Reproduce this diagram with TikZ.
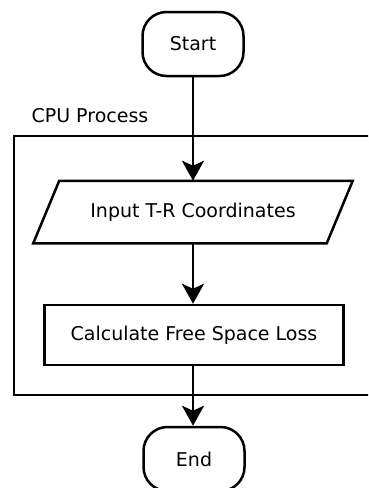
\documentclass[tikz,border=0pt]{standalone}
\usepackage{fontspec}
\setmainfont{DejaVu Sans}
\usetikzlibrary{arrows.meta}
\begin{document}
\begin{tikzpicture}[x=1pt,y=-1pt,line width=2.5pt,
  every node/.style={font=\fontsize{19}{23}\selectfont},
  term/.style={draw,rounded corners=24pt,minimum width=101pt,minimum height=64pt,inner sep=0pt},
  procbox/.style={draw,minimum width=299pt,minimum height=60pt,inner sep=0pt},
  flow/.style={-{Stealth[length=20pt,width=22pt,inset=5pt]}}]
  \clip (0,0) rectangle (368,488);
  \draw (14,136) rectangle (390,395);
  \node[anchor=west] (cpulabel) at (27,116) {CPU Process};
  \node[term] (start) at (193,44) {Start};
  \node[minimum width=291pt,minimum height=60pt,inner sep=0pt] (input) at (193,212) {Input T-R Coordinates};
  \draw ([xshift=13pt]input.north west) -- ([xshift=13pt]input.north east)
    -- ([xshift=-13pt]input.south east) -- ([xshift=-13pt]input.south west) -- cycle;
  \node[procbox] (calc) at (194,335) {Calculate Free Space Loss};
  \node[term] (stop) at (194,459) {End};
  \draw[flow] (start) -- (input);
  \draw[flow] (input) -- (input |- calc.north);
  \draw[flow] (calc.south -| input) -- (stop.north -| input);
\end{tikzpicture}
\end{document}
